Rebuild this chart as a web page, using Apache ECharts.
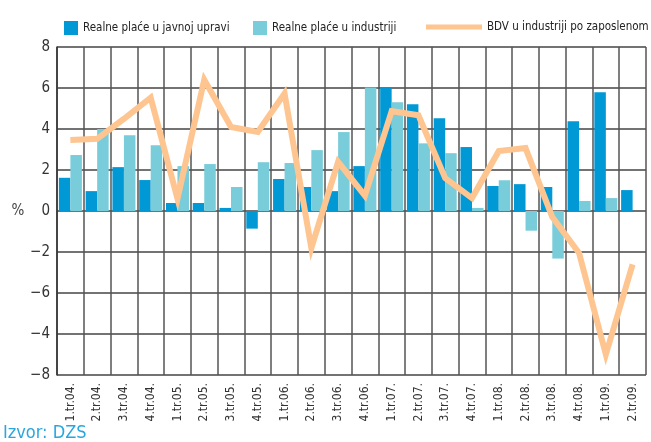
<!DOCTYPE html>
<html>
<head>
<meta charset="utf-8">
<script src="https://cdn.jsdelivr.net/npm/echarts@6/dist/echarts.min.js"></script>
<style>
  html, body { margin: 0; padding: 0; background: #fff; }
  #chart { width: 651px; height: 442px; }
</style>
</head>
<body>
<div id="chart"></div>
<script>
const categories = ['1.tr.04.', '2.tr.04.', '3.tr.04.', '4.tr.04.', '1.tr.05.', '2.tr.05.', '3.tr.05.', '4.tr.05.',
  '1.tr.06.', '2.tr.06.', '3.tr.06.', '4.tr.06.', '1.tr.07.', '2.tr.07.', '3.tr.07.', '4.tr.07.',
  '1.tr.08.', '2.tr.08.', '3.tr.08.', '4.tr.08.', '1.tr.09.', '2.tr.09.']

const javnaUprava = [1.62, 0.97, 2.14, 1.51, 0.39, 0.39, 0.15, -0.86, 1.56, 1.17, 0.97, 2.19,
  6.02, 5.21, 4.53, 3.12, 1.22, 1.31, 1.17, 4.38, 5.79, 1.02]
const industrija = [2.73, 4.0, 3.7, 3.21, 2.19, 2.29, 1.17, 2.38, 2.34, 2.97, 3.85, 6.02,
  5.31, 3.3, 2.82, 0.15, 1.5, -0.96, -2.32, 0.49, 0.63, null]
const bdvPoZaposlenom = [3.46, 3.52, 4.5, 5.53, 0.6, 6.4, 4.1, 3.86, 5.73, -1.8, 2.4, 0.75,
  4.87, 4.67, 1.6, 0.63, 2.92, 3.07, -0.3, -2.05, -7.0, -2.6]

// labels as printed in the source, from -8 up to 8
const yTickLabels = ['\u22128', '\u22124', '\u22126', '\u22122', '0', '2', '4', '6', '8']

const font = '"Liberation Sans Narrow", "DejaVu Sans Condensed", sans-serif'
const legendText = { fontFamily: font, fontSize: 11.5, color: '#222' }
const chart = echarts.init(document.getElementById('chart'))

chart.setOption({
  animation: false,
  textStyle: { fontFamily: font },
  grid: { left: 57, right: 5, top: 47, bottom: 67 },
  legend: [
    {
      data: ['Realne plaće u javnoj upravi'],
      left: 59, top: 16,
      itemWidth: 14, itemHeight: 14, icon: 'rect',
      textStyle: legendText,
    },
    {
      data: ['Realne plaće u industriji'],
      left: 248, top: 16,
      itemWidth: 14, itemHeight: 14, icon: 'rect',
      textStyle: legendText,
    },
    {
      data: ['BDV u industriji po zaposlenom'],
      left: 421, top: 16,
      itemWidth: 56, itemHeight: 5, icon: 'rect',
      textStyle: legendText,
    },
  ],
  xAxis: {
    type: 'category',
    data: categories,
    axisLine: { show: false },
    axisTick: { show: false },
    axisLabel: {
      rotate: 90, interval: 0, margin: 8,
      fontFamily: font, fontSize: 12, color: '#333',
    },
    splitLine: { show: true, interval: 0, lineStyle: { color: '#555', width: 1.5 } },
  },
  yAxis: {
    type: 'value',
    min: -8, max: 8, interval: 2,
    name: '%',
    nameLocation: 'middle',
    nameRotate: 0,
    nameGap: 32,
    nameTextStyle: { fontFamily: font, fontSize: 15, color: '#444' },
    axisLine: { show: true, lineStyle: { color: '#333', width: 1.5 } },
    axisTick: { show: false },
    axisLabel: {
      margin: 7, fontFamily: font, fontSize: 15, color: '#333',
      formatter: (v) => yTickLabels[(v + 8) / 2],
    },
    splitLine: { lineStyle: { color: '#444', width: 1.5 } },
  },
  series: [
    {
      name: 'Realne plaće u javnoj upravi',
      type: 'bar',
      data: javnaUprava,
      barWidth: 11.5,
      barGap: '0%',
      itemStyle: { color: '#0098d5' },
    },
    {
      name: 'Realne plaće u industriji',
      type: 'bar',
      data: industrija,
      barWidth: 11.5,
      itemStyle: { color: '#79ccd9' },
    },
    {
      name: 'BDV u industriji po zaposlenom',
      type: 'line',
      data: bdvPoZaposlenom,
      symbol: 'none',
      itemStyle: { color: '#fec590' },
      lineStyle: { color: '#fec590', width: 6, join: 'miter' },
      z: 5,
    },
  ],
  graphic: [
    {
      type: 'text',
      left: 3, top: 424,
      style: { text: 'Izvor: DZS', fontFamily: font, fontSize: 18, fill: '#2aa6df' },
    },
  ],
})
</script>
</body>
</html>
